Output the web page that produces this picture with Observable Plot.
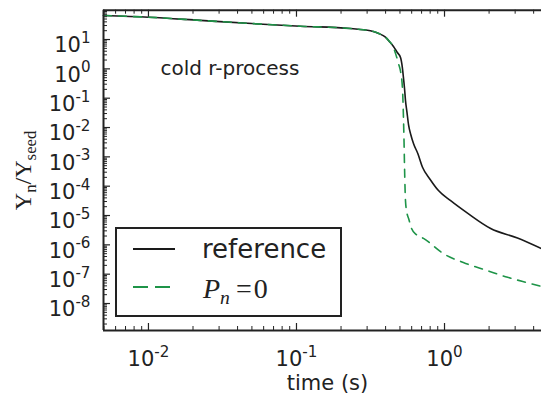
<!DOCTYPE html>
<html>
<head>
<meta charset="utf-8">
<script src="https://cdn.jsdelivr.net/npm/d3@7"></script>
<script src="https://cdn.jsdelivr.net/npm/@observablehq/plot@0.6"></script>
<style>
  html, body { margin: 0; padding: 0; background: #fff; }
  #chart { width: 541px; height: 396px; overflow: hidden; }
</style>
</head>
<body>
<div id="chart"></div>
<script>
// ---- data ----
const seriesLabels = ["reference", "P_n=0"];
const seriesColors = ["#1a1a1a", "#1e9448"];

const refTime = [0.00497, 0.01, 0.0224, 0.05, 0.106, 0.232, 0.27, 0.316, 0.36, 0.399, 0.425, 0.452, 0.48, 0.505, 0.518, 0.528, 0.537, 0.545, 0.557, 0.572, 0.592, 0.618, 0.66, 0.71, 0.8, 0.91, 1.1, 1.43, 2.05, 3.11, 4.52];
const refY    = [66, 57.5, 45, 35, 28.5, 23.7, 22, 20, 16, 12, 8.5, 5.8, 3.6, 2.4, 1.2, 0.5, 0.21, 0.083, 0.035, 0.012, 5.7e-3, 2.8e-3, 1.3e-3, 4.4e-4, 1.7e-4, 7.1e-5, 3.2e-5, 1.2e-5, 3.6e-6, 1.7e-6, 7.4e-7];

const pnTime = [0.00497, 0.01, 0.0224, 0.05, 0.106, 0.232, 0.27, 0.316, 0.36, 0.399, 0.425, 0.446, 0.47, 0.489, 0.505, 0.52, 0.528, 0.533, 0.537, 0.545, 0.557, 0.572, 0.599, 0.647, 0.721, 0.984, 1.34, 1.95, 2.67, 3.81, 4.52];
const pnY    = [66, 57.5, 45, 35, 28.5, 23.7, 22, 20, 16, 12, 8.5, 6.2, 3.0, 1.5, 0.8, 0.21, 0.022, 3e-3, 4.4e-4, 3.2e-5, 1.25e-5, 7.9e-6, 3.6e-6, 2.2e-6, 1.66e-6, 5.0e-7, 2.5e-7, 1.32e-7, 7.8e-8, 4.8e-8, 3.8e-8];

const xTickValues = [0.01, 0.1, 1];
const yTickValues = [10, 1, 0.1, 0.01, 1e-3, 1e-4, 1e-5, 1e-6, 1e-7, 1e-8];
const xDomain = [0.00497, 4.52];
const yDomain = [Math.pow(10, -8.92), 100];

const panelNote = "cold r-process";
const xLabel = "time (s)";
const yLabel = "Y_n/Y_seed";

// ---- layout ----
const W = 541, H = 396, mL = 103, mR = 0, mT = 9.7, mB = 66;
const pw = W - mL - mR, ph = H - mT - mB;

function minorTicks(lo, hi) {
  const out = [];
  for (let e = Math.floor(Math.log10(lo)); e <= Math.ceil(Math.log10(hi)); e++)
    for (let k = 2; k <= 9; k++) {
      const v = k * Math.pow(10, e);
      if (v >= lo && v <= hi) out.push(v);
    }
  return out;
}
const xMinor = minorTicks(xDomain[0], xDomain[1]);
const yMinor = minorTicks(yDomain[0], yDomain[1]);

const refData = refTime.map((t, i) => ({t, y: refY[i]}));
const pnData = pnTime.map((t, i) => ({t, y: pnY[i]}));

const expFmt = d => "10^" + Math.round(Math.log10(d));
const ink = "#222";

const svg = Plot.plot({
  width: W, height: H,
  marginLeft: mL, marginRight: mR, marginTop: mT, marginBottom: mB,
  x: {type: "log", domain: xDomain},
  y: {type: "log", domain: yDomain},
  style: {fontFamily: "DejaVu Sans", fontSize: "21px", color: ink, background: "white", overflow: "visible"},
  marks: [
    Plot.line(refData, {x: "t", y: "y", stroke: seriesColors[0], strokeWidth: 1.6, curve: "monotone-x"}),
    Plot.line(pnData, {x: "t", y: "y", stroke: seriesColors[1], strokeWidth: 1.6, strokeDasharray: "8,7", curve: "monotone-x"}),
    // inward ticks: left, top, bottom
    Plot.ruleY(yTickValues, {insetRight: pw - 7, stroke: ink, strokeWidth: 1.2}),
    Plot.ruleY(yMinor, {insetRight: pw - 4, stroke: ink, strokeWidth: 1}),
    Plot.ruleX(xTickValues, {insetBottom: ph - 7, stroke: ink, strokeWidth: 1.2}),
    Plot.ruleX(xTickValues, {insetTop: ph - 7, stroke: ink, strokeWidth: 1.2}),
    Plot.ruleX(xMinor, {insetBottom: ph - 4, stroke: ink, strokeWidth: 1}),
    Plot.ruleX(xMinor, {insetTop: ph - 4, stroke: ink, strokeWidth: 1}),
    // frame (right edge is cut off in the reference)
    Plot.ruleX([xDomain[0]], {stroke: ink, strokeWidth: 2}),
    Plot.ruleY(yDomain, {stroke: ink, strokeWidth: 2}),
    Plot.axisX({ticks: xTickValues, tickSize: 0, tickPadding: 21, tickFormat: expFmt, label: null, fill: ink}),
    Plot.axisY({ticks: yTickValues, tickSize: 0, tickPadding: 13, tickFormat: expFmt, label: null, dy: 6, fill: ink}),
    Plot.text([panelNote], {frameAnchor: "top-left", textAnchor: "start", dx: 57, dy: 51, fontSize: 20, fill: ink}),
    Plot.text([xLabel], {frameAnchor: "bottom", textAnchor: "middle", dx: 5, dy: 59, fontSize: 21, fill: ink}),
    Plot.text([yLabel], {frameAnchor: "left", textAnchor: "middle", rotate: -90, dx: -80, fontSize: 24, fill: ink, fontFamily: "Liberation Serif"})
  ]
});

// superscript exponents on tick labels, subscripts on the y label
d3.select(svg).selectAll("text").each(function() {
  const el = d3.select(this);
  const s = this.textContent;
  const m = /^10\^(-?\d+)$/.exec(s);
  if (m) {
    el.text("10");
    el.append("tspan").attr("dy", "-0.62em").attr("font-size", "0.72em").text(m[1]);
  } else if (s === yLabel) {
    const parts = yLabel.split("/");
    el.text("");
    parts.forEach((p, i) => {
      const [base, sub] = p.split("_");
      if (i > 0) el.append("tspan").text("/");
      el.append("tspan").text(base);
      el.append("tspan").attr("baseline-shift", "-0.28em").attr("font-size", "0.7em").text(sub);
    });
  }
});

// legend (inside the plot, lower left)
const lg = d3.select(svg).append("g").attr("class", "legend").attr("text-anchor", "start");
lg.append("rect").attr("x", 116).attr("y", 228).attr("width", 225).attr("height", 88)
  .attr("fill", "white").attr("stroke", ink).attr("stroke-width", 2);
lg.append("line").attr("x1", 133).attr("x2", 175).attr("y1", 249).attr("y2", 249)
  .attr("stroke", seriesColors[0]).attr("stroke-width", 2);
lg.append("line").attr("x1", 133).attr("x2", 175).attr("y1", 287).attr("y2", 287)
  .attr("stroke", seriesColors[1]).attr("stroke-width", 2).attr("stroke-dasharray", "15,7");
lg.append("text").attr("x", 202).attr("y", 258).attr("font-family", "DejaVu Sans").attr("font-size", 26)
  .attr("text-anchor", "start").attr("fill", ink).text(seriesLabels[0]);
const t2 = lg.append("text").attr("x", 203).attr("y", 298).attr("font-family", "Liberation Serif")
  .attr("text-anchor", "start").attr("font-size", 28).attr("fill", ink);
{
  const [lhs, rhs] = seriesLabels[1].split("=");
  const [base, sub] = lhs.split("_");
  t2.append("tspan").attr("font-style", "italic").text(base);
  t2.append("tspan").attr("font-style", "italic").attr("font-size", "0.7em").attr("dy", 6).text(sub);
  t2.append("tspan").attr("dy", -6).attr("dx", 6).text("=");
  t2.append("tspan").attr("dx", 2).text(rhs);
}

document.getElementById("chart").appendChild(svg);
</script>
</body>
</html>
